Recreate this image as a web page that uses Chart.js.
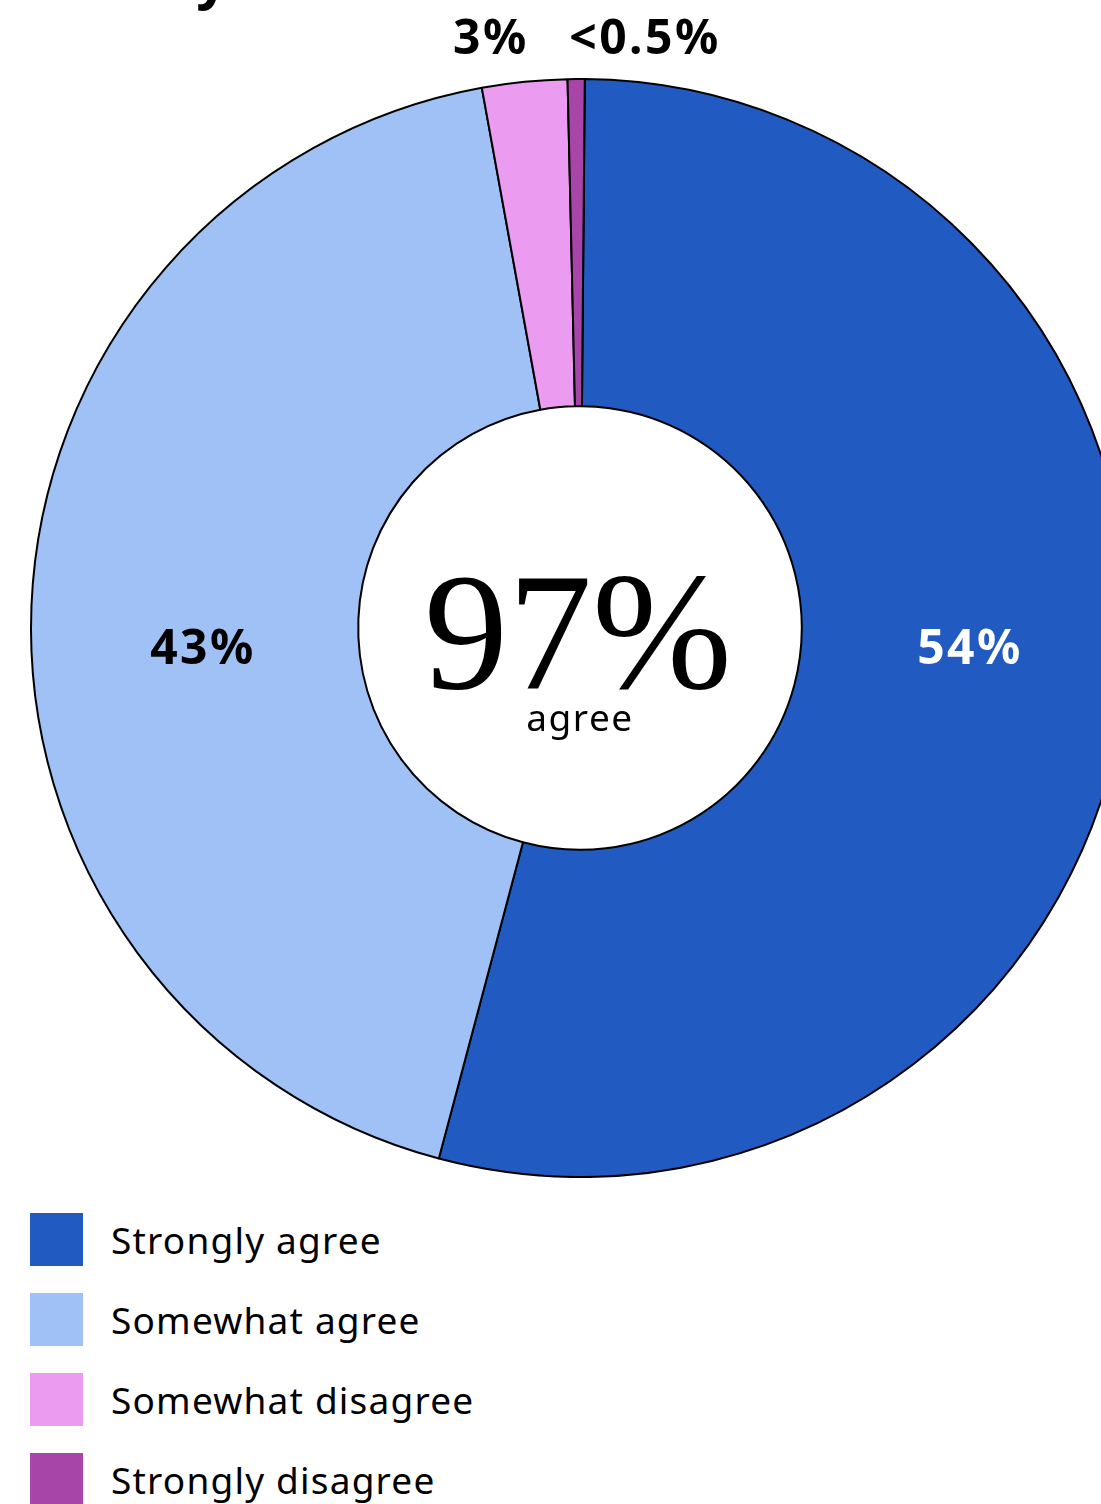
<!DOCTYPE html>
<html>
<head>
<meta charset="utf-8">
<script src="https://cdn.jsdelivr.net/npm/chart.js@4.4.1/dist/chart.umd.min.js"></script>
<style>
    html, body { margin: 0; padding: 0; background: #fff; overflow: hidden; }
    body { width: 1101px; height: 1504px; position: relative; }
    #title {
        position: absolute; left: 50px; top: -52px; white-space: nowrap;
        font: 700 56px "Noto Sans", sans-serif; line-height: 56px; color: #000;
    }
    #wrap { position: absolute; left: 0; top: 0; width: 1160px; height: 1178px; }
    #legend { position: absolute; left: 30px; top: 1213px; }
    .item { display: flex; align-items: center; height: 53px; margin-bottom: 27px; }
    .swatch { width: 53px; height: 53px; margin-right: 28px; }
    .label { font: 400 37px "Noto Sans", sans-serif; letter-spacing: 1.2px; color: #000; }
</style>
</head>
<body>
<div id="title">in 10 years</div>
<div id="wrap"><canvas id="donut"></canvas></div>
<div id="legend"></div>
<script>
// 응답 항목과 비율
const categories = ['Strongly agree', 'Somewhat agree', 'Somewhat disagree', 'Strongly disagree'];
const shares = [54, 43, 2.5, 0.5];
const shareLabels = ['54%', '43%', '3%', '<0.5%'];
const colors = ['#215bc2', '#a0c1f5', '#ec9cf0', '#a845a8'];
const centerValue = '97%';
const centerCaption = 'agree';

// 슬라이스 라벨 위치/색 (레이아웃)
const labelStyle = [
    { dx: 390, dy: 22, color: '#fff' },
    { dx: -377, dy: 22, color: '#000' },
    { dx: -89, dy: -588, color: '#000' },
    { dx: 65, dy: -588, color: '#000' }
];

const centerText = {
    id: 'centerText',
    afterDraw(chart) {
        const ctx = chart.ctx;
        const arc = chart.getDatasetMeta(0).data[0];
        const cx = arc.x, cy = arc.y;
        ctx.save();
        ctx.textAlign = 'center';
        ctx.textBaseline = 'alphabetic';
        ctx.fillStyle = '#000';
        ctx.font = '400 168px "Liberation Serif", serif';
        ctx.fillText(centerValue, cx - 2, cy + 60);
        ctx.font = '400 37px "Noto Sans", sans-serif';
        ctx.letterSpacing = '1.5px';
        ctx.fillText(centerCaption, cx, cy + 103);

        ctx.font = '700 48px "Noto Sans", sans-serif';
        ctx.letterSpacing = '2.5px';
        ctx.textBaseline = 'middle';
        shareLabels.forEach((t, i) => {
            const s = labelStyle[i];
            ctx.fillStyle = s.color;
            ctx.fillText(t, cx + s.dx, cy + s.dy);
        });
        ctx.restore();
    }
};

const Donut = {
    instance: null,

    render(canvasId) {
        const canvas = document.getElementById(canvasId);
        if (!canvas) {
            console.error(`[Donut] Canvas not found: ${canvasId}`);
            return;
        }
        const ctx = canvas.getContext('2d');

        this.instance = new Chart(ctx, {
            type: 'doughnut',
            data: {
                labels: categories,
                datasets: [{
                    data: shares,
                    backgroundColor: colors,
                    borderColor: '#000000',
                    borderWidth: 2,
                    hoverOffset: 0
                }]
            },
            options: {
                responsive: true,
                maintainAspectRatio: false,
                animation: false,
                cutout: '40.4%',
                rotation: 0.5,
                layout: { padding: { top: 78 } },
                plugins: {
                    legend: { display: false },
                    tooltip: { enabled: false }
                }
            },
            plugins: [centerText]
        });
    }
};

function buildLegend() {
    const box = document.getElementById('legend');
    categories.forEach((name, i) => {
        const row = document.createElement('div');
        row.className = 'item';
        const sw = document.createElement('div');
        sw.className = 'swatch';
        sw.style.background = colors[i];
        const lb = document.createElement('div');
        lb.className = 'label';
        lb.textContent = name;
        row.appendChild(sw);
        row.appendChild(lb);
        box.appendChild(row);
    });
}

Donut.render('donut');
buildLegend();
</script>
</body>
</html>
